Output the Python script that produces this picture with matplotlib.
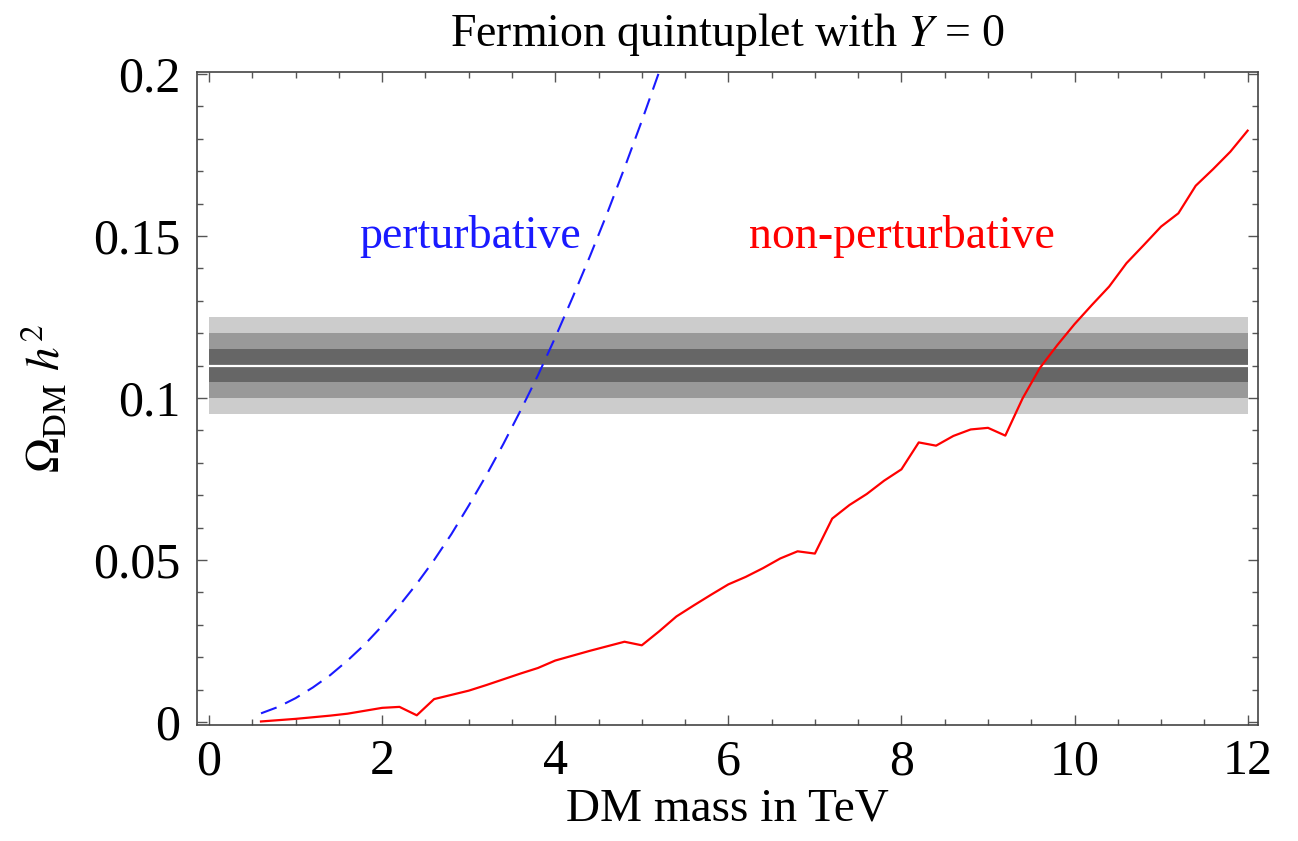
import matplotlib
matplotlib.use('Agg')
import matplotlib.pyplot as plt
from matplotlib.ticker import MultipleLocator, FixedLocator

plt.rcParams['font.family'] = ['Liberation Serif', 'DejaVu Serif']
plt.rcParams['mathtext.fontset'] = 'stix'

# perturbative (Sommerfeld-free) relic abundance, blue dashed
pert_mass = [0.6, 0.8, 1.0, 1.2, 1.4, 1.6, 1.8, 2.0, 2.2, 2.4, 2.6, 2.8,
             3.0, 3.2, 3.4, 3.6, 3.8, 4.0, 4.2, 4.4, 4.6, 4.8, 5.0, 5.2]
pert_omega = [0.0027, 0.0047, 0.0074, 0.0107, 0.0145, 0.019, 0.024, 0.0297,
              0.036, 0.0427, 0.050, 0.058, 0.0668, 0.076, 0.0858, 0.0962,
              0.107, 0.1187, 0.131, 0.1437, 0.157, 0.171, 0.1855, 0.2006]

# non-perturbative relic abundance, red solid
np_mass = [0.6, 0.8, 1.0, 1.2, 1.4, 1.6, 1.8, 2.0, 2.2, 2.4, 2.6, 2.8,
           3.0, 3.2, 3.4, 3.6, 3.8, 4.0, 4.2, 4.4, 4.6, 4.8, 5.0, 5.2,
           5.4, 5.6, 5.8, 6.0, 6.2, 6.4, 6.6, 6.8, 7.0, 7.2, 7.4, 7.6,
           7.8, 8.0, 8.2, 8.4, 8.6, 8.8, 9.0, 9.2, 9.4, 9.6, 9.8, 10.0,
           10.2, 10.4, 10.6, 10.8, 11.0, 11.2, 11.4, 11.6, 11.8, 12.0]
np_omega = [0.0002, 0.0006, 0.001, 0.0015, 0.002, 0.0026, 0.0035, 0.0044,
            0.0047, 0.0021, 0.0071, 0.0084, 0.0097, 0.0114, 0.0132, 0.015,
            0.0167, 0.019, 0.0205, 0.022, 0.0234, 0.0248, 0.0237, 0.028,
            0.0326, 0.036, 0.0393, 0.0425, 0.0448, 0.0475, 0.0505, 0.0527,
            0.052, 0.0628, 0.067, 0.0704, 0.0745, 0.078, 0.0863, 0.0853,
            0.0883, 0.0903, 0.0908, 0.0884, 0.0999, 0.1093, 0.1163, 0.1228,
            0.1287, 0.1344, 0.1416, 0.1472, 0.1529, 0.157, 0.1655, 0.1706,
            0.176, 0.1825]

# measured abundance with 1, 2, 3 sigma bands
band_x = [0, 12]
omega_central = 0.11
band_sigma = [0.015, 0.010, 0.005]
band_colors = ['#cccccc', '#999999', '#666666']

y_ticks = [0, 0.05, 0.1, 0.15, 0.2]
y_ticklabels = ['0', '0.05', '0.1', '0.15', '0.2']
x_ticks = [0, 2, 4, 6, 8, 10, 12]

fig = plt.figure(figsize=(12.98, 8.41), dpi=100)
ax = fig.add_axes([0.1518, 0.1379, 0.8174, 0.7765])

for s, c in zip(band_sigma, band_colors):
    ax.fill_between(band_x, omega_central - s, omega_central + s,
                    color=c, linewidth=0, zorder=1)
ax.plot(band_x, [omega_central, omega_central], color='white', linewidth=1.6, zorder=2)

ax.plot(pert_mass, pert_omega, color='#1a1aff', linewidth=1.5,
        dashes=(8, 4.5), zorder=3)
ax.plot(np_mass, np_omega, color='#ff0000', linewidth=1.6, zorder=3)

ax.text(3.02, 0.1463, 'perturbative', color='#1a1aff', fontsize=33,
        ha='center', va='baseline')
ax.text(8.0, 0.1463, 'non-perturbative', color='#ff0000', fontsize=33,
        ha='center', va='baseline')

ax.set_xlim(-0.139, 12.12)
ax.set_ylim(-0.0009, 0.2006)

ax.xaxis.set_major_locator(FixedLocator(x_ticks))
ax.xaxis.set_minor_locator(MultipleLocator(0.5))
ax.yaxis.set_major_locator(FixedLocator(y_ticks))
ax.set_yticklabels(y_ticklabels)
ax.yaxis.set_minor_locator(MultipleLocator(0.01))

ax.tick_params(which='both', direction='in', top=True, right=True,
               color='#555555', labelsize=36)
ax.tick_params(which='major', length=7, width=1)
ax.tick_params(which='minor', length=4, width=1)
ax.tick_params(axis='x', pad=10)
ax.tick_params(axis='y', pad=12)
for sp in ax.spines.values():
    sp.set_color('#444444')
    sp.set_linewidth(1.2)

ax.set_xlabel('DM mass in TeV', fontsize=34, labelpad=2)
ax.set_ylabel(r'$\Omega_{\mathrm{DM}}\ h^2$', fontsize=34, labelpad=16)
ax.set_title(r'Fermion quintuplet with $Y$ = 0', fontsize=33, pad=19)

fig.savefig('out.png', dpi=100)
